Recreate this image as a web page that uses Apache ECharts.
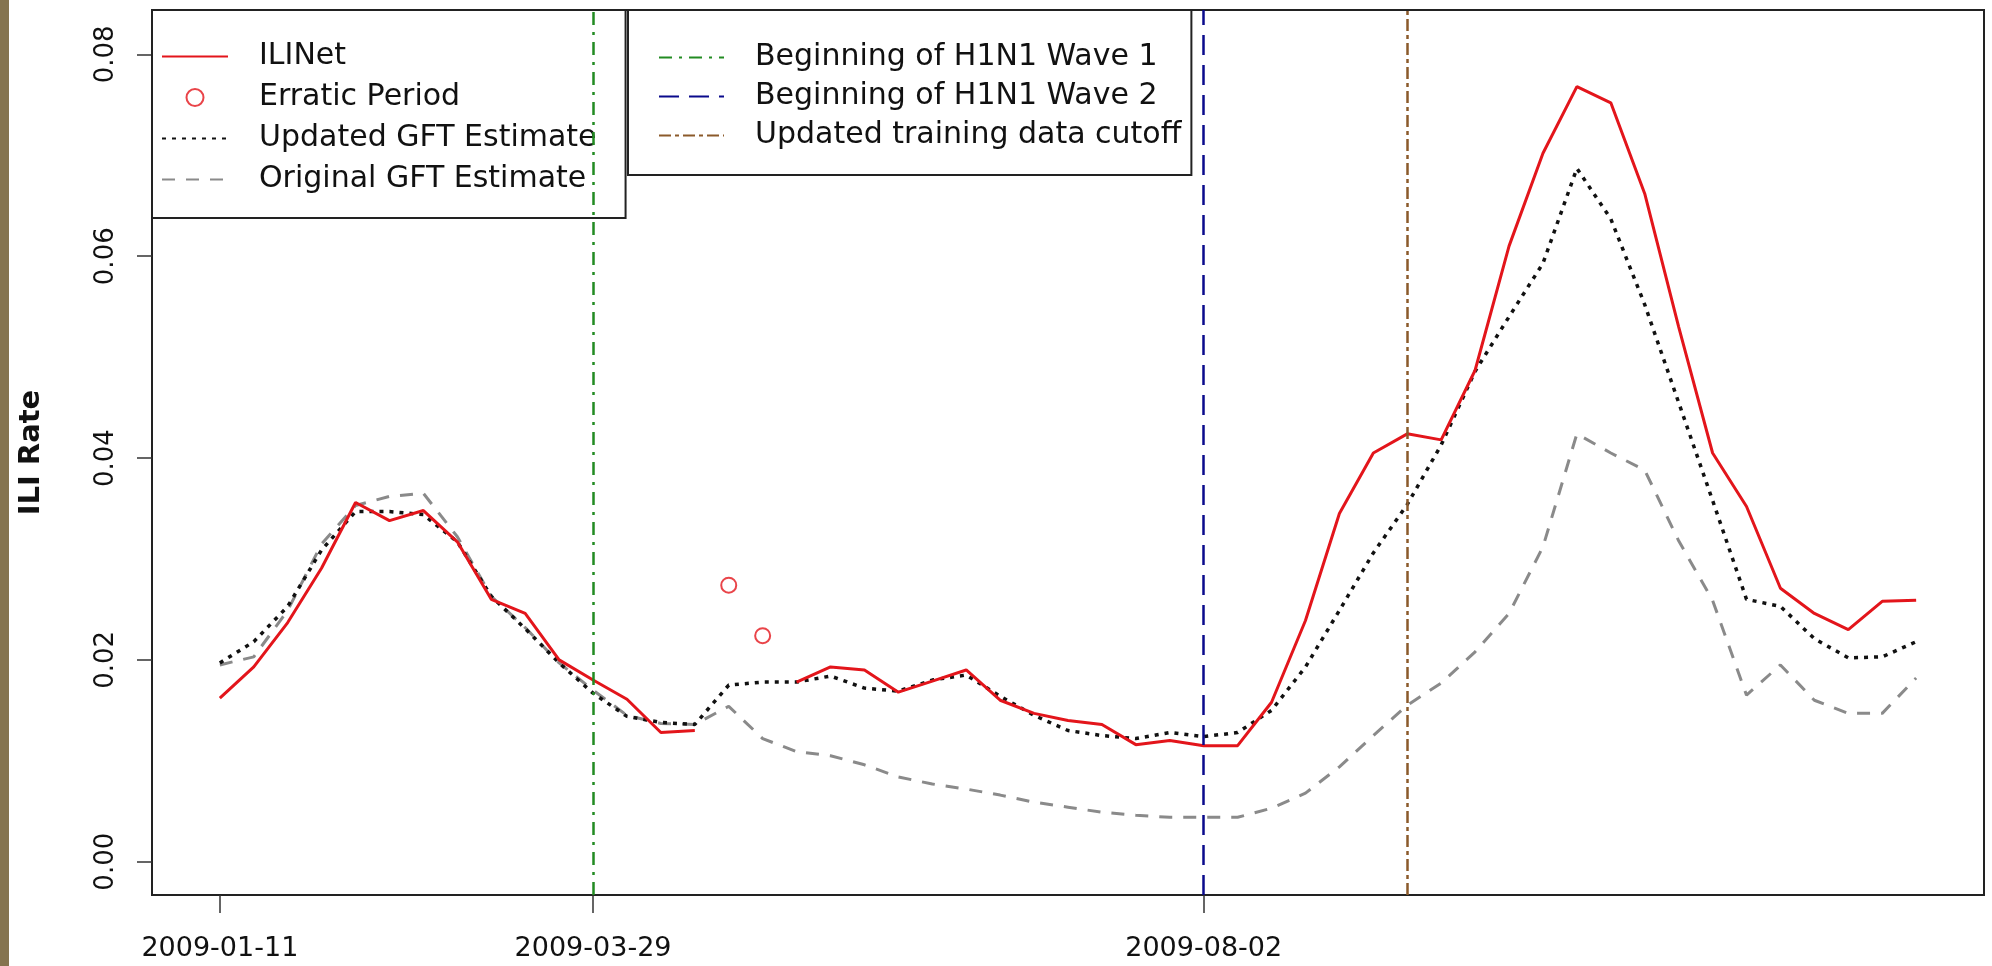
<!DOCTYPE html>
<html>
<head>
<meta charset="utf-8">
<script src="https://cdn.jsdelivr.net/npm/echarts@6/dist/echarts.min.js"></script>
<style>
  html, body { margin: 0; padding: 0; background: #fff; }
  #chart { width: 1992px; height: 966px; }
</style>
</head>
<body>
<div id="chart"></div>
<script>
// weeks are counted from 2009-01-11 (week 0) to 2009-12-27 (week 50)
const tickWeeks = [0, 11, 29]
const tickLabels = ['2009-01-11', '2009-03-29', '2009-08-02']
const yTicks = [0, 0.02, 0.04, 0.06, 0.08]

const iliNet = [
  0.0162, 0.0193, 0.0237, 0.0291, 0.0356, 0.0338, 0.0348, 0.0317, 0.0260, 0.0246,
  0.0200, 0.0180, 0.0161, 0.0128, 0.0130, null, null, 0.0178, 0.0193, 0.0190,
  0.0168, 0.0179, 0.0190, 0.0160, 0.0147, 0.0140, 0.0136, 0.0116, 0.0120, 0.0115,
  0.0115, 0.0158, 0.0239, 0.0345, 0.0405, 0.0424, 0.0418, 0.0487, 0.0610, 0.0702,
  0.0768, 0.0752, 0.0662, 0.0530, 0.0405, 0.0352, 0.0271, 0.0246, 0.0230, 0.0258,
  0.0259
]
const erraticWeeks = [15, 16]
const erraticValues = [0.0274, 0.0224]
const updatedGFT = [
  0.0197, 0.0218, 0.0253, 0.0309, 0.0347, 0.0347, 0.0344, 0.0317, 0.0263, 0.0231,
  0.0197, 0.0167, 0.0144, 0.0138, 0.0136, 0.0175, 0.0178, 0.0178, 0.0184, 0.0172,
  0.0169, 0.0180, 0.0185, 0.0164, 0.0145, 0.0130, 0.0125, 0.0122, 0.0128, 0.0124,
  0.0128, 0.0150, 0.0193, 0.0249, 0.0306, 0.0354, 0.0413, 0.0486, 0.0540, 0.0593,
  0.0687, 0.0637, 0.0552, 0.0455, 0.0358, 0.0260, 0.0253, 0.0221, 0.0202, 0.0203,
  0.0218
]
const originalGFT = [
  0.0195, 0.0203, 0.0249, 0.0315, 0.0353, 0.0362, 0.0365, 0.0322, 0.0263, 0.0232,
  0.0197, 0.0170, 0.0145, 0.0137, 0.0136, 0.0154, 0.0122, 0.0109, 0.0105, 0.0096,
  0.0084, 0.0077, 0.0072, 0.0066, 0.0059, 0.0054, 0.0049, 0.0046, 0.0044, 0.0044,
  0.0044, 0.0053, 0.0068, 0.0094, 0.0125, 0.0155, 0.0177, 0.0208, 0.0246, 0.0312,
  0.0424, 0.0405, 0.0388, 0.0318, 0.0259, 0.0165, 0.0195, 0.0160, 0.0147, 0.0147,
  0.0182
]
const wave1Week = 11
const wave2Week = 29
const cutoffWeek = 35

const font = 'DejaVu Sans'
const chart = echarts.init(document.getElementById('chart'))

const toPairs = arr => arr.map((v, i) => [i, v])
// line-only legend entries: hide the dot ECharts puts in the middle
const lineItem = name => ({ name: name, itemStyle: { opacity: 0 } })

function vline(name, week, color, type) {
  return {
    name: name,
    type: 'line',
    symbol: 'none',
    data: [],
    lineStyle: { color: color, width: 2.5, type: type },
    itemStyle: { color: color },
    markLine: {
      silent: true,
      symbol: ['none', 'none'],
      label: { show: false },
      lineStyle: { color: color, width: 2.5, type: type },
      data: [{ xAxis: week }]
    }
  }
}

chart.setOption({
  animation: false,
  backgroundColor: '#fff',
  graphic: [{
    type: 'rect',
    left: 0,
    top: 0,
    shape: { width: 9, height: 966 },
    style: { fill: '#85744f' }
  }],
  grid: {
    left: 152,
    right: 8,
    top: 10,
    bottom: 71,
    show: true,
    borderColor: '#222',
    borderWidth: 2
  },
  legend: [{
    left: 152,
    top: 10,
    orient: 'vertical',
    data: [lineItem('ILINet'), 'Erratic Period', lineItem('Updated GFT Estimate'), lineItem('Original GFT Estimate')],
    itemWidth: 66,
    itemHeight: 17,
    itemGap: 0,
    padding: [26, 29, 18, 9],
    borderColor: '#222',
    borderWidth: 2,
    selectedMode: false,
    textStyle: { fontSize: 30, fontFamily: font, color: '#111', lineHeight: 41, padding: [0, 0, 0, 26] }
  }, {
    left: 628,
    top: 10,
    orient: 'vertical',
    data: [lineItem('Beginning of H1N1 Wave 1'), lineItem('Beginning of H1N1 Wave 2'), lineItem('Updated training data cutoff')],
    itemWidth: 65,
    itemHeight: 14,
    itemGap: 0,
    padding: [28, 10, 20, 30],
    borderColor: '#222',
    borderWidth: 2,
    selectedMode: false,
    textStyle: { fontSize: 30, fontFamily: font, color: '#111', lineHeight: 39, padding: [0, 0, 0, 26] }
  }],
  xAxis: {
    type: 'value',
    min: -2,
    max: 52,
    axisLine: { show: true, onZero: false, lineStyle: { color: '#222', width: 2 } },
    axisTick: { show: true, length: 18, customValues: tickWeeks, lineStyle: { color: '#333', width: 1.5 } },
    axisLabel: {
      customValues: tickWeeks,
      formatter: v => tickLabels[tickWeeks.indexOf(v)],
      margin: 40,
      fontSize: 27,
      fontFamily: font,
      color: '#111'
    },
    splitLine: { show: false }
  },
  yAxis: {
    type: 'value',
    min: -0.0033,
    max: 0.0844,
    name: 'ILI Rate',
    nameLocation: 'middle',
    nameGap: 106,
    nameTextStyle: { fontSize: 29, fontWeight: 'bold', fontFamily: font, color: '#111' },
    axisLine: { show: true, onZero: false, lineStyle: { color: '#222', width: 2 } },
    axisTick: { show: true, length: 15, customValues: yTicks, lineStyle: { color: '#333', width: 1.5 } },
    axisLabel: {
      customValues: yTicks,
      rotate: 90,
      margin: 33,
      formatter: v => v.toFixed(2),
      fontSize: 26,
      fontFamily: font,
      color: '#111'
    },
    splitLine: { show: false }
  },
  series: [
    {
      name: 'Original GFT Estimate',
      type: 'line',
      symbol: 'none',
      data: toPairs(originalGFT),
      lineStyle: { color: '#8a8a8a', width: 3, type: [13, 11] },
      itemStyle: { color: '#8a8a8a' }
    },
    {
      name: 'Updated GFT Estimate',
      type: 'line',
      symbol: 'none',
      data: toPairs(updatedGFT),
      lineStyle: { color: '#111', width: 3.5, type: [4, 6] },
      itemStyle: { color: '#111' }
    },
    {
      name: 'ILINet',
      type: 'line',
      symbol: 'none',
      connectNulls: false,
      data: toPairs(iliNet),
      lineStyle: { color: '#e3151b', width: 3 },
      itemStyle: { color: '#e3151b' }
    },
    {
      name: 'Erratic Period',
      type: 'scatter',
      symbol: 'emptyCircle',
      symbolSize: 15,
      data: erraticWeeks.map((w, i) => [w, erraticValues[i]]),
      itemStyle: { color: '#e3151b', borderColor: '#e3151b', borderWidth: 3 }
    },
    vline('Beginning of H1N1 Wave 1', wave1Week, '#228b22', [13, 7, 3, 7]),
    vline('Beginning of H1N1 Wave 2', wave2Week, '#0a0a8c', [20, 10]),
    vline('Updated training data cutoff', cutoffWeek, '#8b5a2b', [12, 4, 4, 4])
  ]
})
</script>
</body>
</html>
